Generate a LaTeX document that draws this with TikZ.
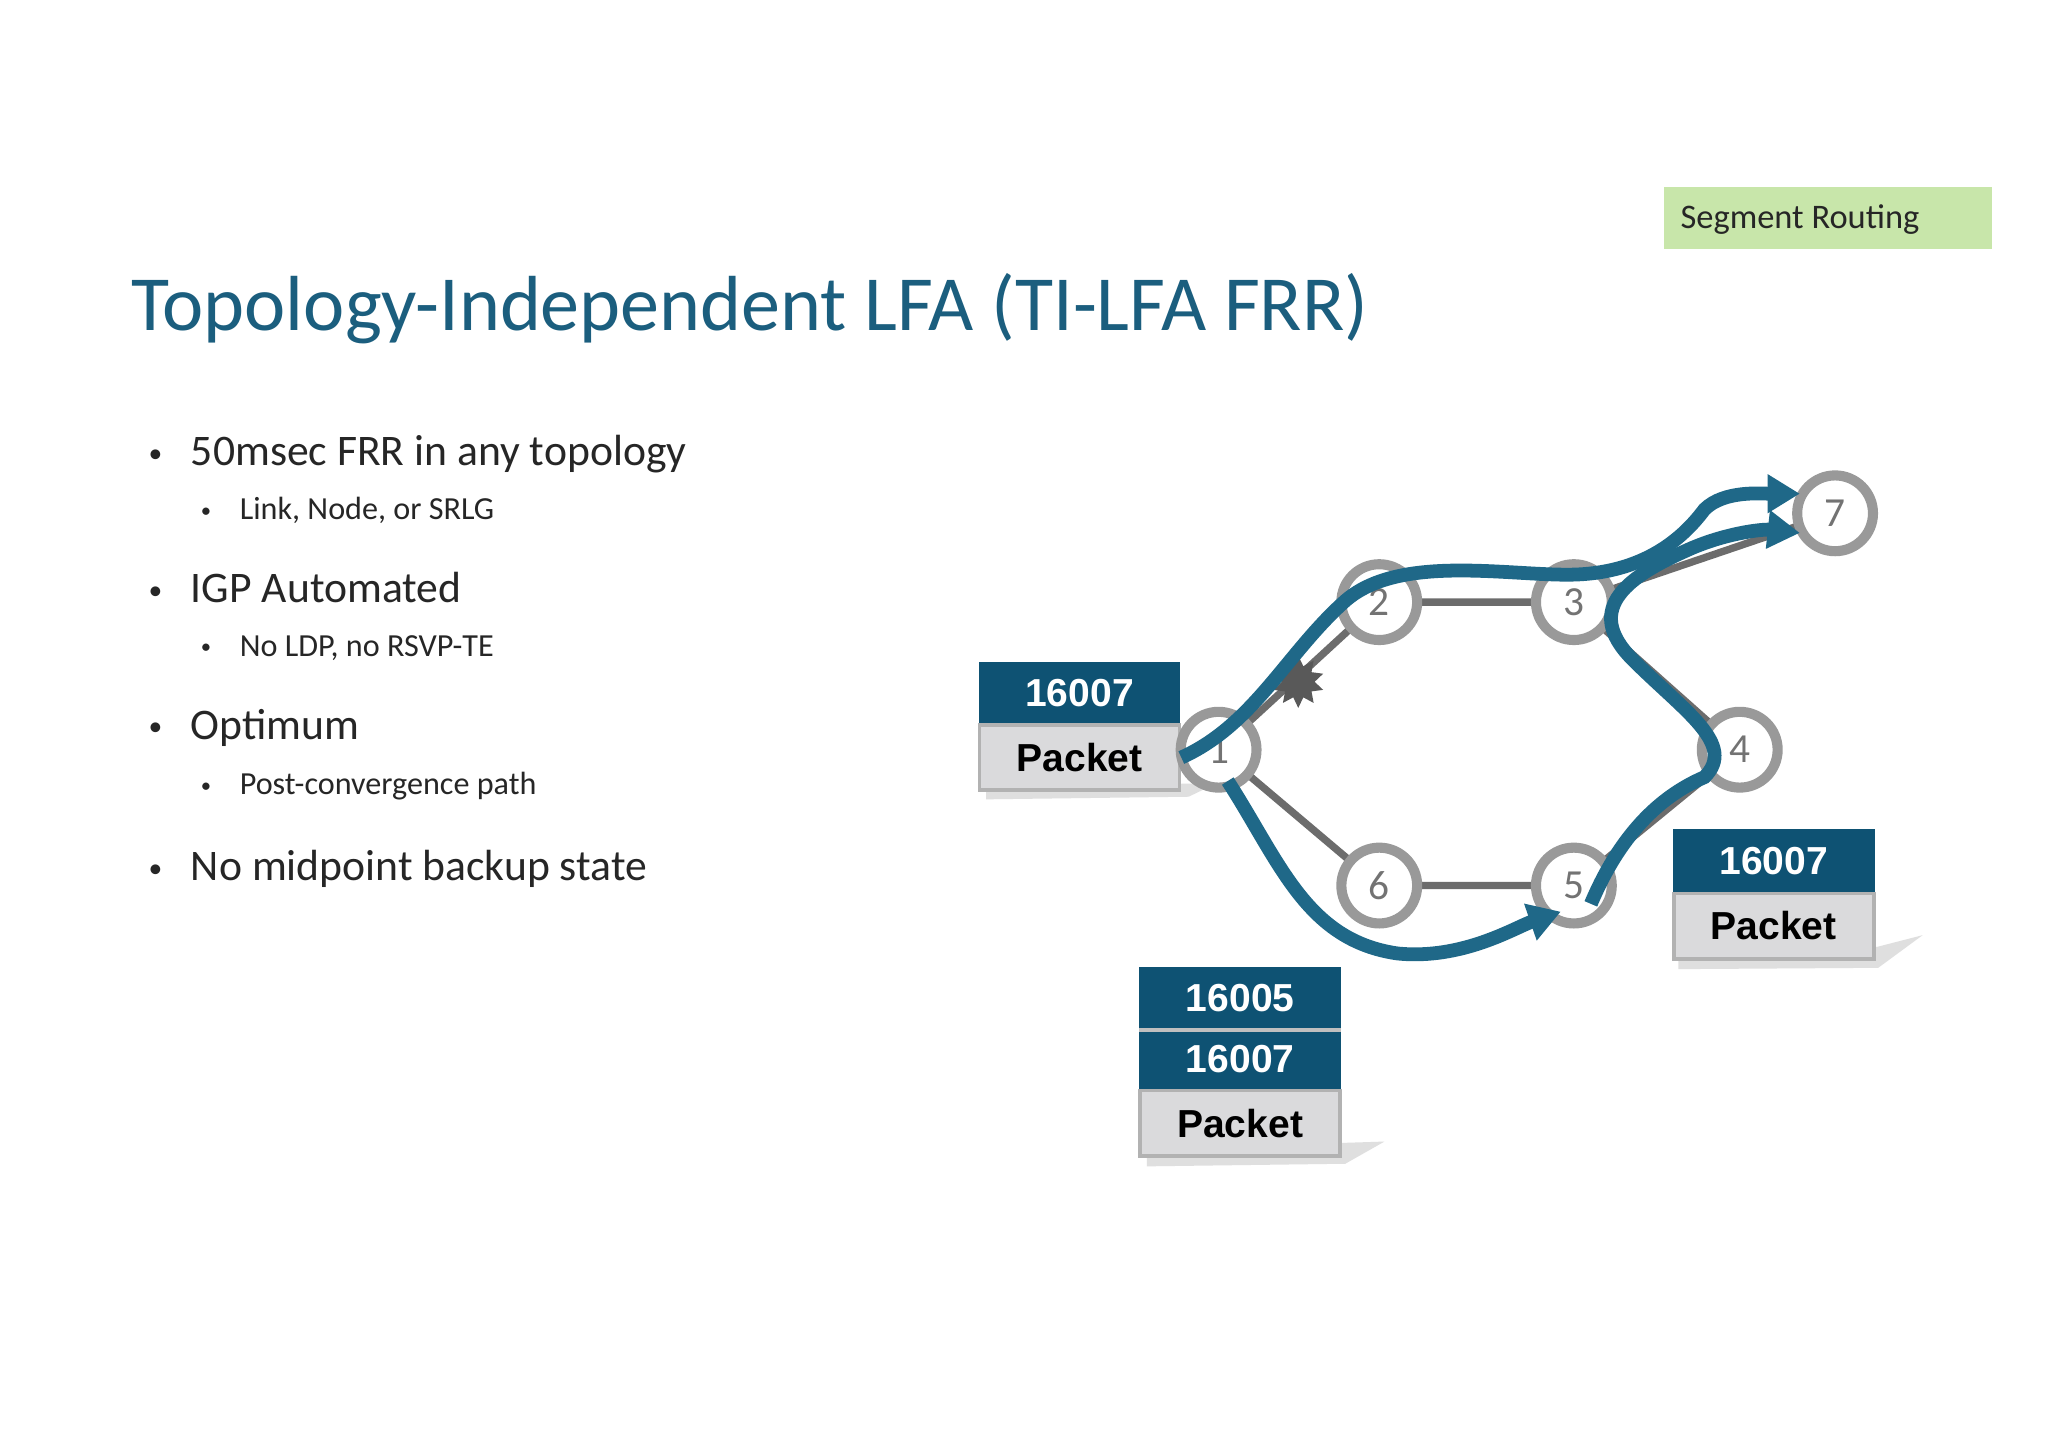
\documentclass[tikz,border=0pt]{standalone}
\usepackage{fontspec}
\setmainfont{Carlito}
\newfontfamily\arialf{Liberation Sans}
\usetikzlibrary{arrows.meta,shapes.geometric}
\definecolor{titleblue}{HTML}{1B5E7E}
\definecolor{pathblue}{HTML}{1F6888}
\definecolor{boxblue}{HTML}{0E5273}
\definecolor{boxgray}{HTML}{DADADC}
\definecolor{srgreen}{HTML}{C8E6AA}
\newcommand{\mybul}{\raisebox{0.15ex}{\fontsize{6}{6}\selectfont•}}
\newcommand{\mysbul}{\raisebox{0.15ex}{\fontsize{4.5}{5}\selectfont•}}
\tikzset{
 rnode/.style={circle,draw=gray!80,line width=2.2pt,fill=white,minimum size=0.58cm,inner sep=0pt,text=gray!90!black,font=\fontsize{9}{10}\selectfont},
 link/.style={draw=gray!85!black,line width=1.6pt},
 flow/.style={draw=pathblue,line width=3pt,-{Triangle[length=7pt,width=8pt]}},
 lblue/.style={fill=boxblue,draw=boxblue,text=white,minimum width=1.53cm,minimum height=0.47cm,inner sep=0pt,font=\arialf\bfseries\fontsize{8.5}{10}\selectfont},
 lgray/.style={fill=boxgray,draw=gray!60,line width=0.8pt,text=black,minimum width=1.53cm,minimum height=0.5cm,inner sep=0pt,font=\arialf\bfseries\fontsize{8.5}{10}\selectfont},
 bul/.style={anchor=west,inner sep=0pt,text=black!85,font=\fontsize{9.5}{11}\selectfont},
 sbul/.style={anchor=west,inner sep=0pt,text=black!85,font=\fontsize{7}{9}\selectfont},
 shad/.style={fill=gray!25},
}
\begin{document}
\begin{tikzpicture}[x=0.01cm,y=-0.01cm]
\useasboundingbox (0,0) rectangle (1568,1109);
\fill[white] (0,0) rectangle (1568,1109);
% header
\fill[srgreen] (1274,143) rectangle (1525,191);
\node[anchor=west,inner sep=0pt,font=\fontsize{7.5}{9}\selectfont,text=black!85] (srt) at (1286,168) {Segment Routing};
\node[anchor=west,inner sep=0pt,text=titleblue,font=\fontsize{17}{20}\selectfont] (title) at (100,236) {Topology-Independent LFA (TI-LFA FRR)};
% bullets
\node[bul] (b1) at (113,348) {\mybul\hspace{0.22cm}50msec FRR in any topology};
\node[sbul] (s1) at (153,391) {\mysbul\hspace{0.22cm}Link, Node, or SRLG};
\node[bul] (b2) at (113,450) {\mybul\hspace{0.22cm}IGP Automated};
\node[sbul] (s2) at (153,496) {\mysbul\hspace{0.22cm}No LDP, no RSVP-TE};
\node[bul] (b3) at (113,557) {\mybul\hspace{0.22cm}Optimum};
\node[sbul] (s3) at (153,602) {\mysbul\hspace{0.22cm}Post-convergence path};
\node[bul] (b4) at (113,665) {\mybul\hspace{0.22cm}No midpoint backup state};
% links
\coordinate (c1) at (933,574);
\coordinate (c2) at (1056,461);
\coordinate (c3) at (1205,461);
\coordinate (c4) at (1332,574);
\coordinate (c5) at (1205,678);
\coordinate (c6) at (1056,678);
\coordinate (c7) at (1405,393);
\draw[link] (c1)--(c2) (c2)--(c3) (c3)--(c4) (c4)--(c5) (c5)--(c6) (c6)--(c1) (c3)--(c7);
% star
\node[star,star points=10,star point ratio=1.6,fill=gray!70!black,minimum size=0.4cm,inner sep=0pt] (st) at (994,522) {};
% shadows
\fill[shad] (906,600) -- (912,600) -- (935,598) -- (910,610) -- (755,612) -- (755,606) -- cycle;
\fill[shad] (1029,875) -- (1060,874) -- (1030,891) -- (878,893) -- (878,886) -- cycle;
\fill[shad] (1437,725) -- (1472,716) -- (1438,741) -- (1285,742) -- (1285,735) -- cycle;
% boxes
\node[lblue] (a1) at (826.5,531) {16007};
\node[lgray] (a2) at (826.5,580) {Packet};
\node[lblue] (bb1) at (949.5,764.5) {16005};
\node[lblue] (bb2) at (949.5,811) {16007};
\draw[gray!50,line width=0.8pt] (bb1.south west) -- (bb1.south east);
\node[lgray] (bb3) at (949.5,860) {Packet};
\node[lblue] (cc1) at (1358,659) {16007};
\node[lgray] (cc2) at (1358,709) {Packet};
% routers
\node[rnode] (n1) at (c1) {1};
\node[rnode] (n2) at (c2) {2};
\node[rnode] (n3) at (c3) {3};
\node[rnode] (n4) at (c4) {4};
\node[rnode] (n5) at (c5) {5};
\node[rnode] (n6) at (c6) {6};
\node[rnode] (n7) at (c7) {7};
% flows
\coordinate (f1e) at (1378,378);
\coordinate (f2e) at (1195,698);
\coordinate (f3e) at (1378,408);
\draw[flow] (a2.east) .. controls (960,555) and (985,500) .. (1030,460)
  .. controls (1070,425) and (1150,440) .. (1200,440)
  .. controls (1260,440) and (1290,410) .. (1305,390)
  .. controls (1320,375) and (1350,378) .. (f1e);
\draw[flow] (940,598) .. controls (980,660) and (1000,720) .. (1070,730)
  .. controls (1120,735) and (1160,710) .. (f2e);
\draw[flow] (1218,692) .. controls (1240,640) and (1270,610) .. (1305,595)
  .. controls (1330,570) and (1290,545) .. (1250,505)
  .. controls (1210,465) and (1250,440) .. (1290,422)
  .. controls (1320,408) and (1350,405) .. (f3e);
\end{tikzpicture}
\end{document}
